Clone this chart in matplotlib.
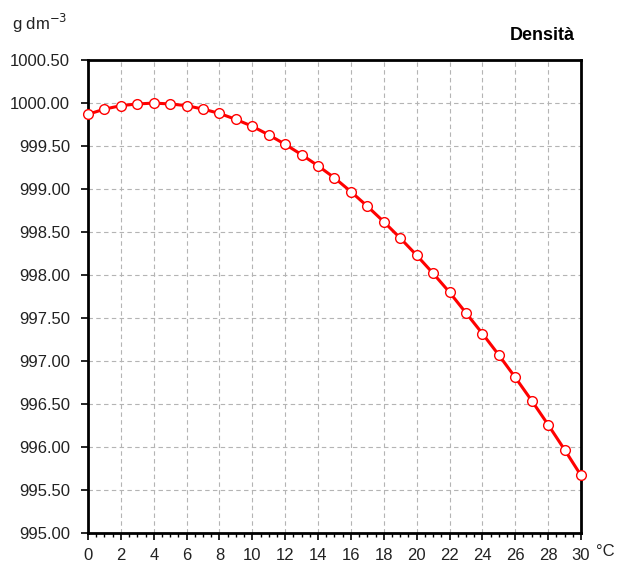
import numpy as np
import matplotlib.pyplot as plt
from matplotlib.ticker import MultipleLocator

plt.rcParams['font.family'] = ['Liberation Sans', 'DejaVu Sans']

# densita' dell'acqua (g dm-3) da 0 a 30 gradi
temp = list(range(0, 31))
densita = [999.87, 999.93, 999.97, 999.99, 1000.00, 999.99, 999.97, 999.93,
           999.88, 999.81, 999.73, 999.63, 999.52, 999.40, 999.27, 999.13,
           998.97, 998.80, 998.62, 998.43, 998.23, 998.02, 997.80, 997.56,
           997.32, 997.07, 996.81, 996.54, 996.26, 995.97, 995.67]

fig = plt.figure(figsize=(6.2, 5.67), dpi=100)
ax = fig.add_axes([0.142, 0.06, 0.795, 0.834])

ax.plot(temp, densita, color='red', lw=2.2, marker='o', ms=7,
        mfc='white', mec='red', mew=1, zorder=3, clip_on=False)

ax.set_xlim(0, 30)
ax.set_ylim(995, 1000.5)
ax.xaxis.set_major_locator(MultipleLocator(2))
ax.xaxis.set_minor_locator(MultipleLocator(0.5))
ax.yaxis.set_major_locator(MultipleLocator(0.5))
ax.yaxis.set_major_formatter(plt.FormatStrFormatter('%.2f'))

ax.grid(True, which='major', color='#b4b4b4', ls=(0, (4, 3)), lw=0.8)
for s in ax.spines.values():
    s.set_linewidth(2)
ax.tick_params(which='major', direction='out', length=5, width=1.2,
               labelsize=12, pad=6, colors='black', labelcolor='#222222')
ax.tick_params(which='minor', direction='out', length=3, width=1)
ax.tick_params(axis='y', pad=8)

fig.text(0.02, 0.958, 'g dm$^{-3}$', fontsize=12, ha='left', va='center',
         color='#222222')
fig.text(0.927, 0.938, 'Densità', fontsize=13, fontweight='bold',
         ha='right', va='center')
fig.text(0.962, 0.028, '°C', fontsize=12, ha='left', va='center',
         color='#222222')

fig.savefig('out.png', dpi=100)
